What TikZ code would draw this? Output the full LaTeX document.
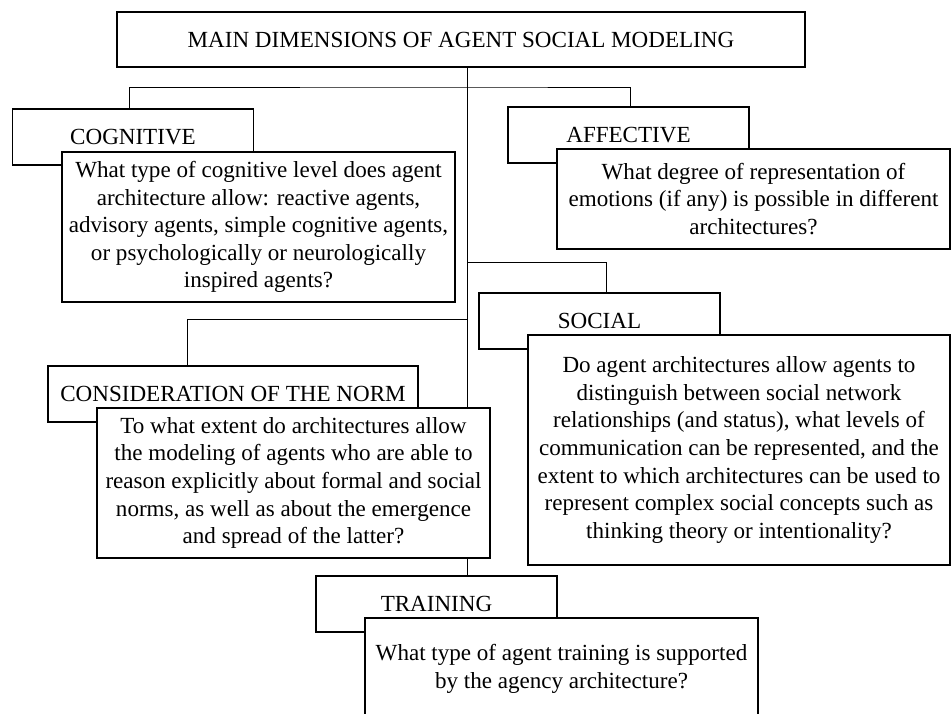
\documentclass[tikz,border=0pt]{standalone}
\usepackage{fontspec}
\setmainfont{Liberation Serif}
\usetikzlibrary{calc,backgrounds}
\begin{document}
\begin{tikzpicture}[x=0.75pt, y=-0.75pt, line width=0.8pt]
        \tikzstyle{box}=[rectangle, draw=black, fill=white, inner sep=0pt, align=center, font=\fontsize{17.3}{20.7}\selectfont]
        \tikzstyle{lbl}=[box, minimum width=180.75pt, minimum height=42pt]
        \tikzstyle{q}=[box, minimum width=294.75pt]

        \useasboundingbox (0,0) rectangle (951,714);

        % Nodes
        \node[box, minimum width=516pt, minimum height=41.25pt] (title) at (461,39.5) {MAIN DIMENSIONS OF AGENT SOCIAL MODELING};

        \node[lbl] (coglbl) at (133,137) {COGNITIVE};
        \node[q, minimum height=112.5pt] (cogq) at (258.5,227)
            {What type of cognitive level does agent\\architecture allow: reactive agents,\\advisory agents, simple cognitive agents,\\or psychologically or neurologically\\inspired agents?};

        \node[lbl] (afflbl) at (628.5,135) {AFFECTIVE};
        \node[q, minimum height=75pt] (affq) at (753.5,199)
            {What degree of representation of\\emotions (if any) is possible in different\\architectures?};

        \node[lbl] (soclbl) at (599.5,321) {SOCIAL};
        \node[q, minimum width=316.5pt, minimum height=172.5pt] (socq) at (739,450)
            {Do agent architectures allow agents to\\distinguish between social network\\relationships (and status), what levels of\\communication can be represented, and the\\extent to which architectures can be used to\\represent complex social concepts such as\\thinking theory or intentionality?};

        \node[lbl, minimum width=277.5pt] (normlbl) at (233,394) {CONSIDERATION OF THE NORM};
        \node[q, minimum height=112.5pt] (normq) at (293.5,483)
            {To what extent do architectures allow\\the modeling of agents who are able to\\reason explicitly about formal and social\\norms, as well as about the emergence\\and spread of the latter?};

        \node[lbl] (trainlbl) at (436.5,604) {TRAINING};
        \node[q, minimum height=76.5pt] (trainq) at (561.5,669)
            {What type of agent training is supported\\by the agency architecture?};

        % Branch points on the trunk
        \coordinate (trunk) at (467,0);
        \coordinate (b1) at (467,87);
        \coordinate (b2) at (467,262);
        \coordinate (b3) at (467,319);

        % Connectors
        \begin{pgfonlayer}{background}
            \draw (title.south -| trunk) -- (trainlbl.north -| trunk);
            \draw ($(coglbl.north)+(-4,0)$) |- (b1) -| ($(afflbl.north)+(2,0)$);
            \draw (b2) -| ($(soclbl.north)+(7,0)$);
            \draw (b3) -| ($(normlbl.north)+(-46,0)$);
        \end{pgfonlayer}
\end{tikzpicture}
\end{document}
